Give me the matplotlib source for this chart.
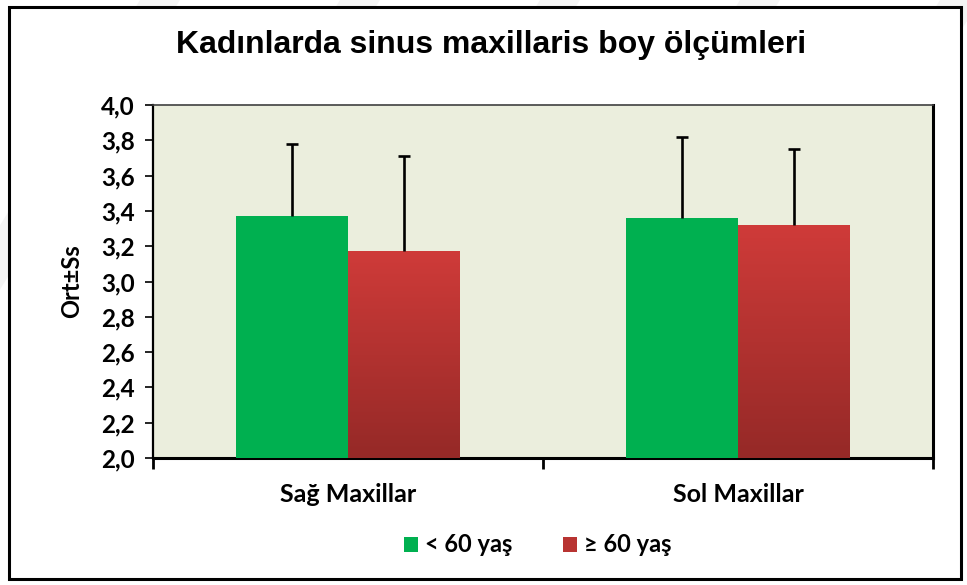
import matplotlib
matplotlib.use("Agg")
import matplotlib.pyplot as plt
import numpy as np
from matplotlib.patches import Rectangle, Polygon
from matplotlib.colors import LinearSegmentedColormap

categories = ["Sağ Maxillar", "Sol Maxillar"]
series_names = ["< 60 yaş", "≥ 60 yaş"]
means_lt60 = [3.37, 3.36]
sd_lt60 = [0.41, 0.46]
means_ge60 = [3.17, 3.32]
sd_ge60 = [0.54, 0.43]
yticks = [2.0, 2.2, 2.4, 2.6, 2.8, 3.0, 3.2, 3.4, 3.6, 3.8, 4.0]
ytick_labels = ["2,0", "2,2", "2,4", "2,6", "2,8", "3,0", "3,2", "3,4", "3,6", "3,8", "4,0"]
title = "Kadınlarda sinus maxillaris boy ölçümleri"
ylabel = "Ort±Ss"

W, H = 967, 585
fig = plt.figure(figsize=(W / 100, H / 100), dpi=100)
fig.patch.set_facecolor("white")

# faint watermark stripes
for x0 in [-60, 140, 340, 540, 740, 940]:
    fig.patches.append(Polygon([(x0 / W, 1.0), ((x0 + 40) / W, 1.0), ((x0 - 160) / W, 0.45), ((x0 - 200) / W, 0.45)],
                               closed=True, transform=fig.transFigure, facecolor="#f4f4f4",
                               edgecolor="none", zorder=-10))

# outer border
fig.patches.append(Rectangle((9 / W, 6 / H), (961 - 9) / W, (578 - 6) / H, transform=fig.transFigure,
                             fill=True, facecolor="white", edgecolor="black", linewidth=2.2, zorder=-5))

left, right, top, bottom = 153, 933, 105, 458
ax = fig.add_axes([left / W, 1 - bottom / H, (right - left) / W, (bottom - top) / H])
ax.set_facecolor("#EBEEDD")

x = np.arange(len(categories))
bw = 0.286
green = "#00B050"
cap = 0.016


def upper_errorbars(xs, means, sds):
    xs = np.asarray(xs)
    tops = np.asarray(means) + np.asarray(sds)
    ax.vlines(xs, means, tops, color="black", linewidth=1.9, zorder=4)
    ax.hlines(tops, xs - cap, xs + cap, color="black", linewidth=1.9, zorder=4)


ax.bar(x - bw / 2, [m - 2.0 for m in means_lt60], bw, bottom=2.0, color=green, zorder=3)
upper_errorbars(x - bw / 2, means_lt60, sd_lt60)

grad = np.linspace(0, 1, 256).reshape(-1, 1)
cmap = LinearSegmentedColormap.from_list("rg", ["#952927", "#CF3B39"])
red_bars = ax.bar(x + bw / 2, [m - 2.0 for m in means_ge60], bw, bottom=2.0, color="#C43836", zorder=3)
for b in red_bars:
    x0, y0 = b.get_x(), b.get_y()
    w, h = b.get_width(), b.get_height()
    im = ax.imshow(grad, cmap=cmap, aspect="auto", origin="lower",
                   extent=[x0, x0 + w, y0, y0 + h], zorder=3.5)
    im.set_clip_path(b)
upper_errorbars(x + bw / 2, means_ge60, sd_ge60)

ax.set_xlim(-0.5, len(categories) - 0.5)
ax.set_ylim(2.0, 4.0)
ax.set_yticks(yticks)
ax.set_yticklabels(ytick_labels)
ax.set_xticks(x)
ax.set_xticklabels(categories)
ax.set_xticks(np.arange(-0.5, len(categories), 1.0), minor=True)
ax.tick_params(axis="x", which="major", length=0, pad=18)
ax.tick_params(axis="x", which="minor", length=8, width=2, direction="out", color="black")
ax.tick_params(axis="y", length=6, width=1.2, direction="out", pad=7, color="black")

for lab in ax.get_yticklabels():
    lab.set_fontfamily("Lato")
    lab.set_fontweight("bold")
    lab.set_fontsize(17.5)
for lab in ax.get_xticklabels():
    lab.set_fontfamily("Lato")
    lab.set_fontweight("bold")
    lab.set_fontsize(18)

ax.spines["left"].set_linewidth(1.6)
ax.spines["bottom"].set_linewidth(2.2)
ax.spines["right"].set_linewidth(2.2)
ax.spines["top"].set_linewidth(1.2)
ax.spines["top"].set_color("#404040")

ax.set_ylabel(ylabel, fontfamily="Lato", fontweight="bold", fontsize=17, labelpad=13)

fig.text(491.5 / W, 1 - 45 / H, title, ha="center", va="center", fontfamily="Liberation Sans",
         fontweight="bold", fontsize=23)

handles = [Rectangle((0, 0), 1, 1, facecolor=green), Rectangle((0, 0), 1, 1, facecolor="#B83432")]
fig.legend(handles, series_names, loc="center", bbox_to_anchor=(0.556, 1 - 545 / H), ncol=2, frameon=False,
           prop={"family": "Lato", "weight": "bold", "size": 17}, handlelength=0.6, handleheight=0.6,
           handletextpad=0.3, columnspacing=2.15)

fig.savefig("out.png", dpi=100)
